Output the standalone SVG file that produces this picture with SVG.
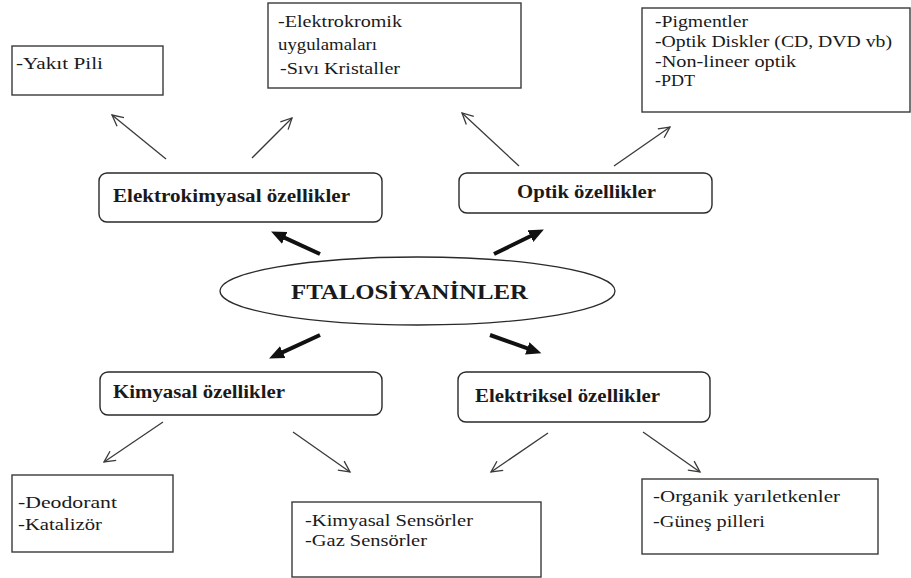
<svg xmlns="http://www.w3.org/2000/svg" width="911" height="578" viewBox="0 0 911 578">
<style>
.box{fill:#fff;stroke:#3a3a3a;stroke-width:1.4}
.rbox{fill:#fff;stroke:#2a2a2a;stroke-width:1.4}
text{font-family:'Liberation Serif','Times New Roman',serif;fill:#1a1a1a}
.t{font-size:17px}
.b{font-size:18.5px;font-weight:bold}
.big{font-size:22px;font-weight:bold}
.thin{stroke:#3a3a3a;stroke-width:1.3;fill:none;marker-end:url(#open)}
.thick{stroke:#111;stroke-width:4;fill:none;marker-end:url(#solid)}
</style>
<defs>
<marker id="open" markerUnits="userSpaceOnUse" markerWidth="14" markerHeight="14" viewBox="0 0 14 14" refX="12" refY="7" orient="auto">
<path d="M1,1.5 L12,7 L1,12.5" fill="none" stroke="#3a3a3a" stroke-width="1.3"/>
</marker>
<marker id="solid" markerUnits="userSpaceOnUse" markerWidth="16" markerHeight="14" viewBox="0 0 16 14" refX="1" refY="7" orient="auto">
<path d="M0,0.5 L15,7 L0,13.5 Z" fill="#111"/>
</marker>
</defs>
<rect width="911" height="578" fill="#fff"/>

<g id="connectors">
<line class="thick" x1="320" y1="254" x2="283.8" y2="237.4"/>
<line class="thick" x1="494" y1="254" x2="531.3" y2="235.7"/>
<line class="thick" x1="320" y1="335" x2="281.8" y2="352.6"/>
<line class="thick" x1="490" y1="335" x2="528.2" y2="348.6"/>
<line class="thin" x1="166" y1="159" x2="112" y2="115"/>
<line class="thin" x1="252" y1="158" x2="292" y2="118"/>
<line class="thin" x1="519" y1="166" x2="462" y2="113"/>
<line class="thin" x1="614" y1="166" x2="670" y2="127"/>
<line class="thin" x1="163" y1="422" x2="104" y2="462"/>
<line class="thin" x1="293" y1="432" x2="350" y2="472"/>
<line class="thin" x1="548" y1="433" x2="491" y2="472"/>
<line class="thin" x1="643" y1="432" x2="700" y2="472"/>
</g>

<g id="center">
<ellipse cx="417.5" cy="291" rx="197.5" ry="34" fill="#fff" stroke="#2a2a2a" stroke-width="1.3"/>
<text class="big" x="291" y="299" textLength="237" lengthAdjust="spacingAndGlyphs">FTALOSİYANİNLER</text>
</g>

<g id="elektrokimyasal">
<rect class="rbox" x="99" y="173" width="283" height="49" rx="8"/>
<text class="b" x="113" y="202" textLength="237" lengthAdjust="spacingAndGlyphs">Elektrokimyasal özellikler</text>
</g>

<g id="optik">
<rect class="rbox" x="459" y="173" width="253" height="40" rx="8"/>
<text class="b" x="517" y="198" textLength="139" lengthAdjust="spacingAndGlyphs">Optik özellikler</text>
</g>

<g id="kimyasal">
<rect class="rbox" x="100" y="372" width="282" height="43" rx="8"/>
<text class="b" x="113" y="398" textLength="172" lengthAdjust="spacingAndGlyphs">Kimyasal özellikler</text>
</g>

<g id="elektriksel">
<rect class="rbox" x="458" y="372" width="252" height="50" rx="8"/>
<text class="b" x="475" y="402" textLength="185" lengthAdjust="spacingAndGlyphs">Elektriksel özellikler</text>
</g>

<g id="yakit">
<rect class="box" x="12" y="46" width="151" height="49"/>
<text class="t" x="16" y="69" textLength="87" lengthAdjust="spacingAndGlyphs">-Yakıt  Pili</text>
</g>

<g id="elektrokromik">
<rect class="box" x="268" y="3" width="253" height="85"/>
<text class="t" x="278" y="27" textLength="124" lengthAdjust="spacingAndGlyphs">-Elektrokromik</text>
<text class="t" x="278" y="50" textLength="99" lengthAdjust="spacingAndGlyphs">uygulamaları</text>
<text class="t" x="280" y="74" textLength="120" lengthAdjust="spacingAndGlyphs">-Sıvı  Kristaller</text>
</g>

<g id="pigment">
<rect class="box" x="642" y="8" width="268" height="104"/>
<text class="t" x="655" y="27" textLength="93" lengthAdjust="spacingAndGlyphs">-Pigmentler</text>
<text class="t" x="655" y="47" textLength="237" lengthAdjust="spacingAndGlyphs">-Optik  Diskler  (CD,  DVD vb)</text>
<text class="t" x="655" y="67" textLength="141" lengthAdjust="spacingAndGlyphs">-Non-lineer  optik</text>
<text class="t" x="655" y="86" textLength="40" lengthAdjust="spacingAndGlyphs">-PDT</text>
</g>

<g id="deodorant">
<rect class="box" x="12" y="475" width="161" height="77"/>
<text class="t" x="18" y="508" textLength="99" lengthAdjust="spacingAndGlyphs">-Deodorant</text>
<text class="t" x="18" y="530" textLength="84" lengthAdjust="spacingAndGlyphs">-Katalizör</text>
</g>

<g id="sensor">
<rect class="box" x="292" y="502" width="249" height="75"/>
<text class="t" x="305" y="526" textLength="168" lengthAdjust="spacingAndGlyphs">-Kimyasal  Sensörler</text>
<text class="t" x="305" y="546" textLength="122" lengthAdjust="spacingAndGlyphs">-Gaz Sensörler</text>
</g>

<g id="organik">
<rect class="box" x="642" y="479" width="236" height="75"/>
<text class="t" x="653" y="502" textLength="187" lengthAdjust="spacingAndGlyphs">-Organik  yarıletkenler</text>
<text class="t" x="653" y="527" textLength="112" lengthAdjust="spacingAndGlyphs">-Güneş  pilleri</text>
</g>
</svg>
